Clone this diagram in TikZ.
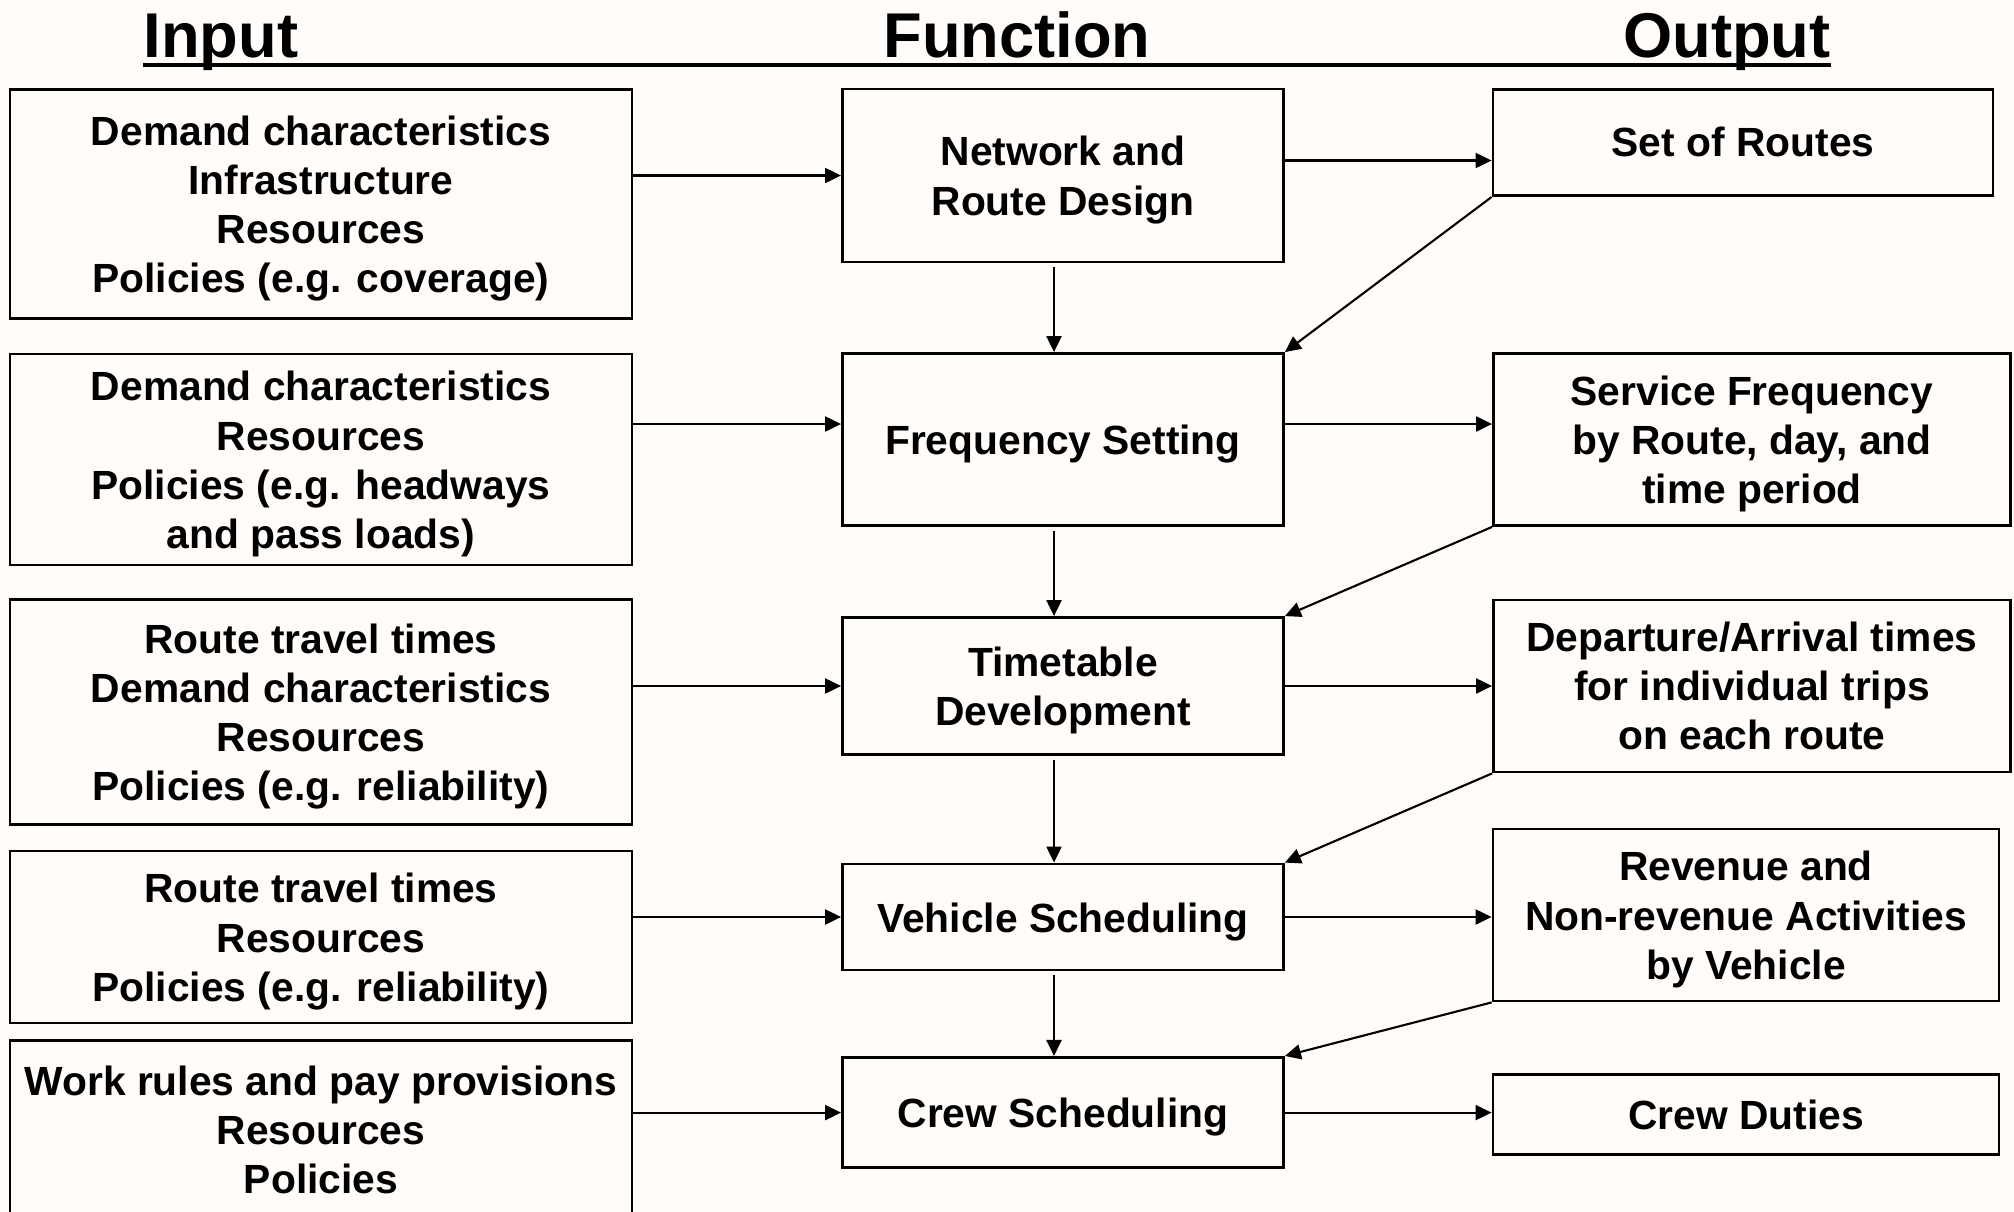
\documentclass[tikz,border=0pt]{standalone}
\usepackage{fontspec}
\setmainfont{Liberation Sans}
\usetikzlibrary{arrows.meta,positioning,calc}
\definecolor{paper}{RGB}{255,252,250}
\newcommand\topgap{\rule{0pt}{11pt}}

\begin{document}
\begin{tikzpicture}[
    box/.style={draw,line width=0.8pt,align=center,inner sep=2pt,font=\fontsize{11.6}{14}\selectfont\bfseries},
    inbox/.style={box,minimum width=6.22cm},
    funbox/.style={box,minimum width=4.41cm},
    title/.style={anchor=base,inner sep=0pt,font=\fontsize{18}{21}\selectfont\bfseries},
    arr/.style={-{Triangle[length=1.6mm,width=1.5mm]},line width=0.6pt}]
  \fill[paper] (0,0) rectangle (20.14,-12.12);
  \useasboundingbox (0,0) rectangle (20.14,-12.12);
  \clip (0,0) rectangle (20.14,-12.12);

  % column heads
  \node[title] (t_in) at (2.21,-0.574) {Input};
  \node[title] (t_fun) at (10.17,-0.574) {Function};
  \node[title] (t_out) at (17.27,-0.574) {Output};
  \draw[line width=1pt] ([yshift=-0.75mm]t_in.base west) -- ([yshift=-0.75mm]t_out.base east);

  % inputs
  \node[inbox,minimum height=2.29cm] (in_1) at (3.21,-2.04) {\topgap Demand characteristics\\Infrastructure\\Resources\\Policies (e.g. coverage)};
  \node[inbox,minimum height=2.11cm] (in_2) at (3.21,-4.595) {\topgap Demand characteristics\\Resources\\Policies (e.g. headways\\and pass loads)};
  \node[inbox,minimum height=2.25cm] (in_3) at (3.21,-7.12) {\topgap Route travel times\\Demand characteristics\\Resources\\Policies (e.g. reliability)};
  \node[inbox,minimum height=1.72cm] (in_4) at (3.21,-9.37) {\topgap Route travel times\\Resources\\Policies (e.g. reliability)};
  \node[inbox,minimum height=1.79cm] (in_5) at (3.21,-11.30) {Work rules and pay provisions\\Resources\\Policies};

  % functions
  \node[funbox,minimum height=1.73cm] (f_1) at (10.63,-1.755) {\topgap Network and\\Route Design};
  \node[funbox,minimum height=1.72cm] (f_2) at (10.63,-4.395) {\topgap Frequency Setting};
  \node[funbox,minimum height=1.37cm] (f_3) at (10.63,-6.86) {\topgap Timetable\\Development};
  \node[funbox,minimum height=1.06cm] (f_4) at (10.63,-9.17) {\topgap Vehicle Scheduling};
  \node[funbox,minimum height=1.105cm] (f_5) at (10.63,-11.126) {\topgap Crew Scheduling};

  % outputs
  \node[box,minimum width=5.0cm,minimum height=1.064cm] (o_1) at (17.43,-1.424) {Set of Routes};
  \node[box,minimum width=5.17cm,minimum height=1.72cm] (o_2) at (17.52,-4.395) {\topgap Service Frequency\\by Route, day, and\\time period};
  \node[box,minimum width=5.17cm,minimum height=1.72cm] (o_3) at (17.52,-6.86) {Departure/Arrival times\\for individual trips\\on each route};
  \node[box,minimum width=5.06cm,minimum height=1.72cm] (o_4) at (17.46,-9.15) {\topgap Revenue and\\Non-revenue Activities\\by Vehicle};
  \node[box,minimum width=5.06cm,minimum height=0.80cm] (o_5) at (17.46,-11.148) {Crew Duties};

  % arrows
  \draw[arr] (in_1.east |- f_1.west) -- (f_1.west);
  \draw[arr] ([yshift=1.5mm]f_1.east) -- ([yshift=1.5mm]f_1.east -| o_1.west);
  \draw[arr] ([yshift=1.55mm]f_2.west -| in_2.east) -- ([yshift=1.55mm]f_2.west);
  \draw[arr] ([yshift=1.55mm]f_2.east) -- ([yshift=1.55mm]f_2.east -| o_2.west);
  \foreach \i in {3,4,5}{
    \draw[arr] (in_\i.east |- f_\i.west) -- (f_\i.west);
    \draw[arr] (f_\i.east) -- (f_\i.east -| o_\i.west);
  }
  \foreach \a/\b in {1/2,2/3,3/4,4/5}{
    \draw[arr,shorten <=0.4mm] ([xshift=-0.9mm]f_\a.south) -- ([xshift=-0.9mm]f_\b.north);
    \draw[arr] (o_\a.south west) -- (f_\b.north east);
  }
\end{tikzpicture}
\end{document}
